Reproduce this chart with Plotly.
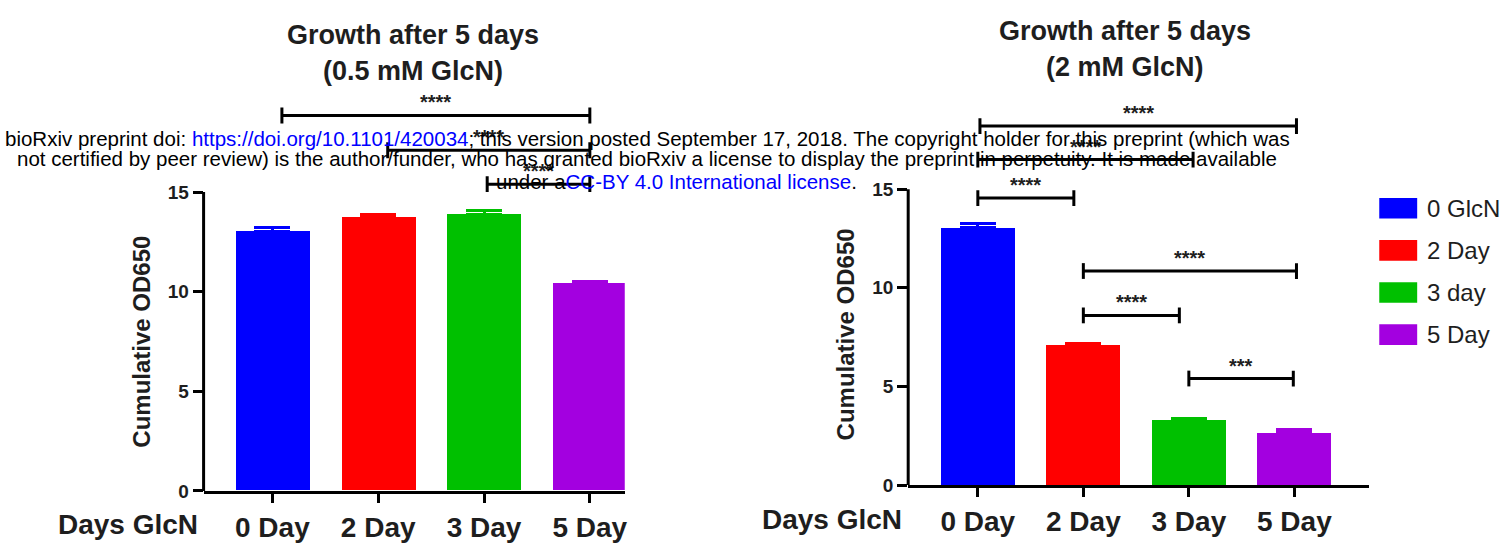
import plotly.graph_objects as go

W, H = 1512, 546
FONT = "Liberation Sans, Arial, Helvetica, sans-serif"
INK = "#1e1e1e"

# ---------------- data ----------------
categories = ["0 Day", "2 Day", "3 Day", "5 Day"]
legend_names = ["0 GlcN", "2 Day", "3 day", "5 Day"]
colors = ["#0000ff", "#ff0000", "#00c000", "#a300e0"]

left_values = [13.0, 13.72, 13.87, 10.43]
left_errors = [0.2, 0.15, 0.2, 0.1]
right_values = [13.06, 7.1, 3.33, 2.68]
right_errors = [0.2, 0.1, 0.05, 0.12]

y_ticks = [0, 5, 10, 15]
y_axis_top = 15

left_title = ["Growth after 5 days", "(0.5 mM GlcN)"]
right_title = ["Growth after 5 days", "(2 mM GlcN)"]
y_title = "Cumulative OD650"
x_title = "Days GlcN"

# significance comparisons (start group, end group, level, label)
left_sig_x0 = [0.09, 1.09, 2.03]
left_sig_x1 = [3.0, 3.0, 3.0]
left_sig_y = [18.85, 17.1, 15.4]
left_sig_label = ["****", "****", "****"]

right_sig_x0 = [0.02, 0.0, 0.0, 1.0, 1.0, 2.0]
right_sig_x1 = [3.02, 2.04, 0.91, 3.02, 1.91, 2.99]
right_sig_y = [18.2, 16.5, 14.55, 10.85, 8.6, 5.4]
right_sig_label = ["****", "****", "****", "****", "****", "***"]

header_lines = [
    'bioRxiv preprint doi: <span style="color:#0000ff">https://doi.org/10.1101/420034</span>; '
    'this version posted September 17, 2018. The copyright holder for this preprint (which was',
    'not certified by peer review) is the author/funder, who has granted bioRxiv a license to '
    'display the preprint in perpetuity. It is made available',
    'under a<span style="color:#0000ff">CC-BY 4.0 International license</span>.',
]


def px(x):
    return x / W


def py(y):
    return 1 - y / H


fig = go.Figure()

panels = [
    dict(xa="x", ya="y", values=left_values, errors=left_errors),
    dict(xa="x2", ya="y2", values=right_values, errors=right_errors),
]
for p in panels:
    for i, cat in enumerate(categories):
        fig.add_trace(go.Bar(
            x=[i], y=[p["values"][i]], width=0.70,
            marker=dict(color=colors[i], line=dict(width=0)),
            error_y=dict(type="data", array=[p["errors"][i]], arrayminus=[0],
                         symmetric=False, color=colors[i], thickness=3, width=18),
            xaxis=p["xa"], yaxis=p["ya"], showlegend=False, name=cat,
        ))

xcommon = dict(
    tickvals=list(range(len(categories))), ticktext=categories,
    showline=True, linewidth=3, linecolor="black",
    ticks="outside", ticklen=9, tickwidth=2.5, tickcolor="black",
    tickfont=dict(family=FONT, size=28, color=INK, weight="bold"),
    showgrid=False, zeroline=False, fixedrange=True,
)
ycommon = dict(
    range=[0, 20], tickvals=y_ticks,
    showline=False, ticks="outside", ticklen=10, tickwidth=2.5, tickcolor="black",
    tickfont=dict(family=FONT, size=19, color=INK, weight="bold"),
    showgrid=False, zeroline=False, fixedrange=True,
)

fig.update_layout(
    width=W, height=H, margin=dict(l=0, r=0, t=0, b=0),
    paper_bgcolor="white", plot_bgcolor="white",
    bargap=0, showlegend=False,
    xaxis=dict(domain=[px(204), px(626)], range=[-0.65, 3.33], anchor="y", **xcommon),
    yaxis=dict(domain=[py(501), py(94.4)], anchor="x", **ycommon),
    xaxis2=dict(domain=[px(910), px(1372)], range=[-0.66, 3.71], anchor="y2", **xcommon),
    yaxis2=dict(domain=[py(495), py(92.4)], anchor="x2", **ycommon),
)

shapes = []
annotations = []

# y axis lines only up to 15
for xa, ya in (("x", "y"), ("x2", "y2")):
    shapes.append(dict(type="line", xref=f"{xa} domain", yref=ya, x0=0, x1=0,
                       y0=0, y1=y_axis_top, line=dict(color="black", width=3)))


# significance brackets
def add_sig(xa, ya, x0s, x1s, levels, labels):
    for x0, x1, lv, lab in zip(x0s, x1s, levels, labels):
        shapes.append(dict(type="line", xref=xa, yref=ya, x0=x0, x1=x1, y0=lv, y1=lv,
                           line=dict(color="black", width=3)))
        for xe in (x0, x1):
            shapes.append(dict(type="line", xref=xa, yref=ya, x0=xe, x1=xe,
                               y0=lv - 0.4, y1=lv + 0.4, line=dict(color="black", width=3)))
        annotations.append(dict(xref=xa, yref=ya, x=(x0 + x1) / 2, y=lv, text=lab,
                                showarrow=False, yanchor="bottom",
                                font=dict(family=FONT, size=20, color=INK, weight="bold")))


add_sig("x", "y", left_sig_x0, left_sig_x1, left_sig_y, left_sig_label)
add_sig("x2", "y2", right_sig_x0, right_sig_x1, right_sig_y, right_sig_label)

# titles
for cx, ys, lines in ((414, (36, 72), left_title), (1127, (32, 68), right_title)):
    for yy, t in zip(ys, lines):
        annotations.append(dict(xref="paper", yref="paper", x=px(cx), y=py(yy), text=t,
                                showarrow=False, xanchor="center", yanchor="middle",
                                font=dict(family=FONT, size=27, color=INK, weight="bold")))

# y titles
for cx, cy in ((142, 349), (847, 341)):
    annotations.append(dict(xref="paper", yref="paper", x=px(cx), y=py(cy), text=y_title,
                            textangle=-90, showarrow=False, xanchor="center", yanchor="middle",
                            font=dict(family=FONT, size=24, color=INK, weight="bold")))

# "Days GlcN" row labels
for cx, cy in ((128, 535), (834, 530)):
    annotations.append(dict(xref="paper", yref="paper", x=px(cx), y=py(cy), text=x_title,
                            showarrow=False, xanchor="center", yanchor="middle",
                            font=dict(family=FONT, size=28, color=INK, weight="bold")))

# manual legend
leg_top, leg_step = 212.5, 43
for i, (name, col) in enumerate(zip(legend_names, colors)):
    cy = leg_top + i * leg_step
    shapes.append(dict(type="rect", xref="paper", yref="paper",
                       x0=px(1382), x1=px(1420), y0=py(cy + 10.5), y1=py(cy - 10.5),
                       fillcolor=col, line=dict(width=0)))
    annotations.append(dict(xref="paper", yref="paper", x=px(1428), y=py(cy), text=name,
                            showarrow=False, xanchor="left", yanchor="middle",
                            font=dict(family=FONT, size=24, color=INK)))

# bioRxiv header
for (cx, cy), line in zip(((649, 141), (648, 162), (678, 185)), header_lines):
    annotations.append(dict(xref="paper", yref="paper", x=px(cx), y=py(cy), text=line,
                            showarrow=False, xanchor="center", yanchor="middle",
                            font=dict(family=FONT, size=20.5, color="black")))

fig.update_layout(shapes=shapes, annotations=annotations)
fig.write_html(
    "out.html",
    config={"displayModeBar": False},
    post_script="document.body.style.margin='0';document.body.style.overflow='hidden';",
)
